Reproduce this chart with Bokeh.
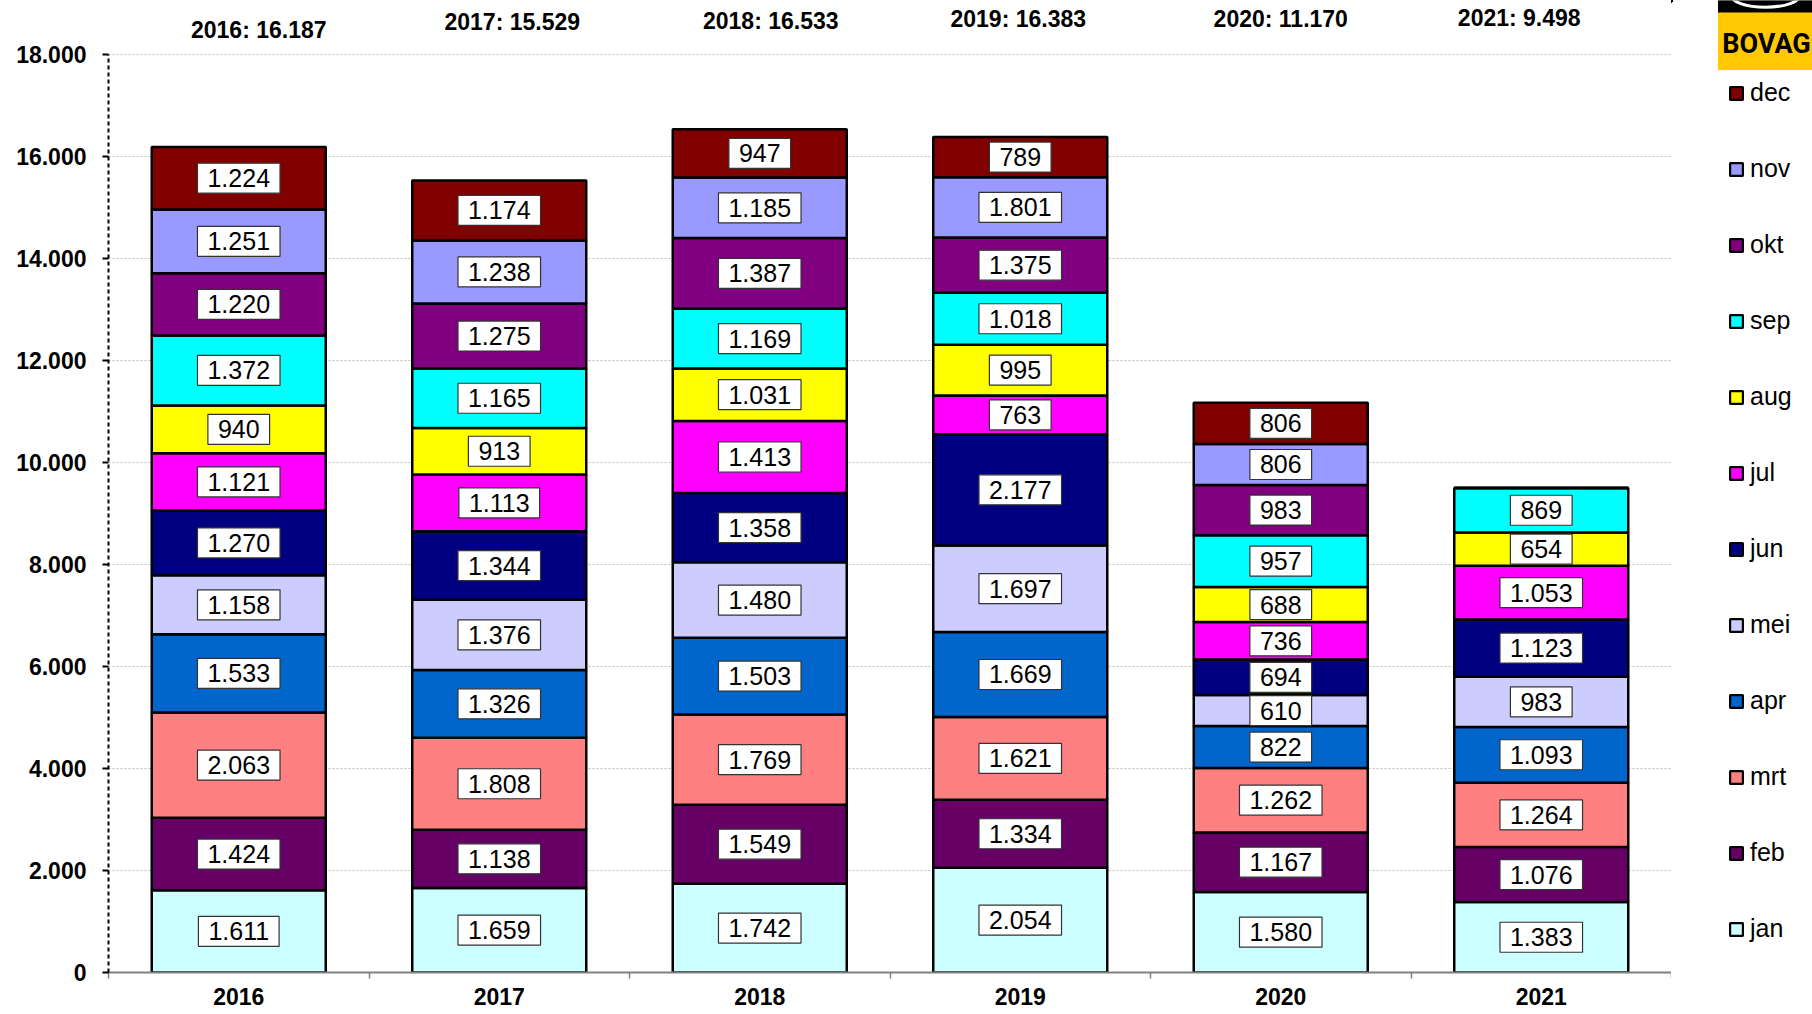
from bokeh.plotting import figure
from bokeh.layouts import row
from bokeh.models import ColumnDataSource, Range1d, FixedTicker, Legend, LegendItem
from bokeh.core.properties import value
from bokeh.embed import file_html
from bokeh.resources import INLINE

# ---------------- data ----------------
years = [2016, 2017, 2018, 2019, 2020, 2021]
months = ["jan", "feb", "mrt", "apr", "mei", "jun", "jul", "aug", "sep", "okt", "nov", "dec"]
v2016 = [1611, 1424, 2063, 1533, 1158, 1270, 1121, 940, 1372, 1220, 1251, 1224]
v2017 = [1659, 1138, 1808, 1326, 1376, 1344, 1113, 913, 1165, 1275, 1238, 1174]
v2018 = [1742, 1549, 1769, 1503, 1480, 1358, 1413, 1031, 1169, 1387, 1185, 947]
v2019 = [2054, 1334, 1621, 1669, 1697, 2177, 763, 995, 1018, 1083, 1183, 789]
v2020 = [1580, 1167, 1262, 822, 610, 694, 736, 688, 1016, 983, 806, 806]
v2021 = [1383, 1076, 1264, 1093, 983, 1123, 1053, 654, 869]
totals = [16187, 15529, 16533, 16383, 11170, 9498]
# value labels printed in the chart that differ from the drawn bar heights
label_overrides = {(2019, "okt"): "1.375", (2019, "nov"): "1.801", (2020, "sep"): "957"}
y_ticks = [0, 2000, 4000, 6000, 8000, 10000, 12000, 14000, 16000, 18000]
colors = ["#CCFFFF", "#660066", "#FF8080", "#0066CC", "#CCCCFF", "#000080",
          "#FF00FF", "#FFFF00", "#00FFFF", "#800080", "#9999FF", "#800000"]

# ---------------- layout constants ----------------
H = 1013
W_MAIN, W_SIDE = 1671, 141
FL, FB = 108, 41
frame_h = H - FB                     # frame spans from canvas top
y_px_18000 = 54                      # canvas y of the 18.000 line
y_top = 18000 * frame_h / (frame_h - y_px_18000)
cat_px = (W_MAIN - FL) / len(years)
FONT = "Liberation Sans"


def fmt(v):
    return f"{v:,}".replace(",", ".")


def px_to_y(cy):
    return (frame_h - cy) * y_top / frame_h


series = [v2016, v2017, v2018, v2019, v2020, v2021]
data = {"year": years}
for i, m in enumerate(months):
    data[m] = [s[i] if i < len(s) else 0 for s in series]
src = ColumnDataSource(data)

p = figure(width=W_MAIN, height=H, output_backend="svg", toolbar_location=None,
           x_range=Range1d(years[0] - 0.5, years[-1] + 0.5), y_range=Range1d(0, y_top),
           min_border_left=FL, min_border_right=0, min_border_top=0, min_border_bottom=FB)
p.outline_line_color = None

renderers = p.vbar_stack(months, x="year", width=0.668, color=colors, source=src,
                         line_color="black", line_width=2.5)

# value labels inside the segments
lx, ly, lt = [], [], []
for yi, yr in enumerate(years):
    base = 0
    for m in months:
        v = data[m][yi]
        if v > 0:
            lx.append(yr)
            ly.append(base + v / 2)
            lt.append(label_overrides.get((yr, m), fmt(v)))
        base += v
p.text(x=lx, y=ly, text=lt, text_font=value(FONT), text_font_size="25px",
       text_align="center", text_baseline="middle", text_color="black",
       background_fill_color="white", border_line_color="#333333", border_line_width=1.2,
       padding=(10, 6))

# totals above the bars (chart annotations)
title_dx = [20, 13, 11, -2, 0, -22]
title_cy = [29, 21, 20, 18.5, 18.5, 17.5]
tx = [yr + dx / cat_px for yr, dx in zip(years, title_dx)]
ty = [px_to_y(c) for c in title_cy]
tt = [f"{yr}: {fmt(t)}" for yr, t in zip(years, totals)]
p.text(x=tx, y=ty, text=tt, text_font=value(FONT), text_font_size="23px",
       text_font_style="bold", text_align="center", text_baseline="middle", text_color="black")

# axes
xa = p.xaxis[0]
xa.ticker = FixedTicker(ticks=years, minor_ticks=[yr - 0.5 for yr in years] + [years[-1] + 0.5])
xa.major_tick_out = 0
xa.major_tick_in = 0
xa.minor_tick_out = 6
xa.minor_tick_in = 0
xa.minor_tick_line_color = "#808080"
xa.minor_tick_line_width = 1.5
xa.axis_line_color = "#808080"
xa.axis_line_width = 2
xa.major_label_text_font = FONT
xa.major_label_text_font_size = "23px"
xa.major_label_text_font_style = "bold"
xa.major_label_text_color = "black"
xa.major_label_standoff = 9
xa.axis_label_standoff = 0

ya = p.yaxis[0]
ya.ticker = FixedTicker(ticks=y_ticks)
ya.bounds = (0, 18000)
ya.axis_line_dash = "4 3"
ya.axis_line_width = 2
ya.axis_line_color = "black"
ya.major_tick_out = 6
ya.major_tick_in = 0
ya.major_tick_line_width = 2
ya.minor_tick_out = 0
ya.minor_tick_in = 0
ya.major_label_overrides = {t: fmt(t) for t in y_ticks}
ya.major_label_text_font = FONT
ya.major_label_text_font_size = "23px"
ya.major_label_text_font_style = "bold"
ya.major_label_text_color = "black"
ya.major_label_standoff = 16

p.xgrid.grid_line_color = None
p.ygrid.ticker = FixedTicker(ticks=y_ticks[1:])
p.ygrid.grid_line_color = "#BDBDBD"
p.ygrid.grid_line_dash = "2 2"
p.ygrid.grid_line_width = 1

# ---------------- side panel: logo + legend ----------------
side = figure(width=W_SIDE, height=H, output_backend="svg", toolbar_location=None,
              x_range=Range1d(0, W_SIDE), y_range=Range1d(H, 0),
              x_axis_type=None, y_axis_type=None,
              min_border_left=0, min_border_right=0, min_border_top=0, min_border_bottom=0)
side.outline_line_color = None
side.xgrid.grid_line_color = None
side.ygrid.grid_line_color = None

# BOVAG logo
side.quad(left=[47], right=[W_SIDE], top=[0], bottom=[13], color="black")
side.ellipse(x=[94], y=[-6], width=[70], height=[26], fill_color=None,
             line_color="white", line_width=3)
side.quad(left=[47], right=[W_SIDE], top=[13], bottom=[72], color="#FFC800")
side.text(x=[95], y=[45], text=["BOVAG"], text_font=value("Roboto"),
          text_font_size="27px", text_font_style="bold", text_color="black",
          text_align="center", text_baseline="middle")

# legend swatches: legend-only renderers (their single point lies outside the view)
swatches = {m: side.vbar(x=[-1000], top=[1], width=1, fill_color=c, line_color="black",
                         line_width=2.2) for m, c in zip(months, colors)}
items = [LegendItem(label=m, renderers=[swatches[m]]) for m in reversed(months)]
legend = Legend(items=items, location=(57, 29), orientation="vertical",
                glyph_width=16, glyph_height=16, label_standoff=6, spacing=47,
                padding=0, margin=0, border_line_color=None, background_fill_alpha=0,
                label_text_font=FONT, label_text_font_size="25px", label_text_color="black")
side.add_layout(legend)

layout = row(p, side)
open("out.html", "w").write(file_html(layout, INLINE))
